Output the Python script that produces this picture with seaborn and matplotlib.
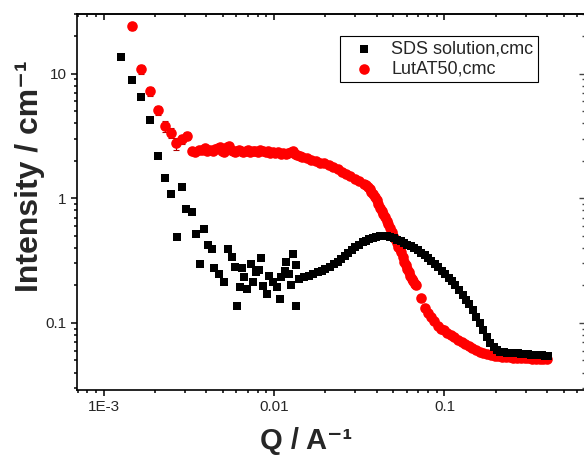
import matplotlib
matplotlib.use("Agg")
import matplotlib.pyplot as plt
import seaborn as sns
import pandas as pd
import numpy as np
from matplotlib.ticker import FixedLocator, FixedFormatter, LogLocator, NullFormatter

# ---------------- data ----------------
sds_q = [1.26e-3, 1.47e-3, 1.66e-3, 1.86e-3, 2.07e-3, 2.27e-3, 2.48e-3, 2.67e-3, 2.87e-3,
         3.04e-3, 3.28e-3, 3.47e-3, 3.67e-3, 3.87e-3, 4.06e-3, 4.29e-3, 4.44e-3, 4.74e-3,
         5.05e-3, 5.35e-3, 5.65e-3, 5.85e-3, 6.07e-3, 6.26e-3, 6.49e-3, 6.69e-3, 6.90e-3,
         7.32e-3, 7.49e-3, 7.83e-3, 8.18e-3, 8.38e-3, 8.63e-3, 9.02e-3, 9.35e-3, 9.78e-3,
         1.045e-2, 1.08e-2, 1.09e-2, 1.16e-2, 1.17e-2, 1.22e-2, 1.26e-2, 1.29e-2, 1.34e-2,
         1.35e-2,
         0.0140, 0.0150, 0.0160, 0.0170, 0.0180, 0.0190, 0.0200, 0.0212, 0.0224, 0.0236,
         0.0248, 0.0260, 0.0273, 0.0286, 0.0300, 0.0315, 0.0330, 0.0346, 0.0362, 0.0380,
         0.0398, 0.0417, 0.0437, 0.0458, 0.0480, 0.0503, 0.0527, 0.0552, 0.0578, 0.0605,
         0.0634, 0.0664, 0.0696, 0.0729, 0.0764, 0.0800, 0.0838, 0.0878, 0.0920, 0.0964,
         0.101, 0.106, 0.111, 0.116, 0.122, 0.128, 0.134, 0.140, 0.147, 0.154, 0.161,
         0.169, 0.177, 0.185, 0.194, 0.203, 0.213, 0.223, 0.234, 0.245, 0.257, 0.269,
         0.282, 0.295, 0.309, 0.324, 0.339, 0.355, 0.372, 0.390, 0.408]
sds_I = [13.6, 8.9, 6.5, 4.2, 2.2, 1.45, 1.08, 0.49, 1.23,
         0.817, 0.77, 0.52, 0.296, 0.565, 0.42, 0.39, 0.275, 0.247,
         0.214, 0.39, 0.34, 0.282, 0.138, 0.193, 0.274, 0.232, 0.187,
         0.296, 0.212, 0.255, 0.267, 0.33, 0.197, 0.171, 0.239, 0.212,
         0.193, 0.156, 0.232, 0.262, 0.31, 0.247, 0.2, 0.356, 0.138,
         0.291,
         0.225, 0.232, 0.240, 0.248, 0.255, 0.262, 0.270, 0.282, 0.296, 0.310,
         0.326, 0.343, 0.362, 0.382, 0.405, 0.425, 0.443, 0.458, 0.472, 0.483,
         0.492, 0.497, 0.500, 0.499, 0.492, 0.480, 0.466, 0.452, 0.438, 0.425,
         0.412, 0.398, 0.383, 0.367, 0.350, 0.332, 0.314, 0.297, 0.280, 0.262,
         0.246, 0.231, 0.215, 0.200, 0.184, 0.168, 0.154, 0.141, 0.126, 0.112, 0.099,
         0.087, 0.077, 0.069, 0.064, 0.061, 0.059, 0.058, 0.0578, 0.0575, 0.0572, 0.0569,
         0.0566, 0.0563, 0.0560, 0.0558, 0.0555, 0.0553, 0.0550, 0.0548, 0.0546]

lut_q = [1.456e-3, 1.66e-3, 1.86e-3, 2.07e-3, 2.27e-3, 2.48e-3, 2.66e-3, 2.87e-3, 3.07e-3,
         3.28e-3, 3.45e-3, 3.60e-3, 3.75e-3, 3.90e-3, 4.05e-3, 4.20e-3, 4.35e-3, 4.50e-3,
         4.65e-3, 4.80e-3, 4.95e-3, 5.10e-3, 5.25e-3, 5.40e-3, 5.55e-3, 5.70e-3, 5.85e-3,
         6.00e-3, 6.20e-3, 6.40e-3, 6.60e-3, 6.80e-3, 7.00e-3, 7.25e-3, 7.50e-3, 7.75e-3,
         8.00e-3, 8.30e-3, 8.60e-3, 8.90e-3, 9.20e-3, 9.50e-3, 9.80e-3, 1.01e-2, 1.05e-2,
         1.09e-2, 1.13e-2, 1.17e-2, 1.21e-2, 1.25e-2, 1.29e-2, 1.33e-2, 1.37e-2, 1.41e-2,
         0.0146, 0.0155, 0.0165, 0.0175, 0.0185, 0.0196, 0.0209, 0.0222, 0.0236, 0.0250,
         0.0265, 0.0280, 0.0298, 0.0316, 0.0336, 0.0346, 0.0356, 0.0364, 0.0372, 0.0381,
         0.0390, 0.0399, 0.0408, 0.0417, 0.0427, 0.0437, 0.0447, 0.0457, 0.0468, 0.0479,
         0.0490, 0.0501, 0.0512, 0.0523, 0.0535, 0.0546, 0.0558, 0.0570, 0.0582, 0.0594,
         0.0606, 0.0618, 0.0631, 0.0643, 0.0655, 0.0667, 0.0680,
         0.0728, 0.0770, 0.0805, 0.0832, 0.0870, 0.0910, 0.0950,
         0.099, 0.104, 0.109, 0.114, 0.120, 0.126, 0.132, 0.139, 0.146, 0.153, 0.161,
         0.169, 0.178, 0.187, 0.197, 0.207, 0.218, 0.229, 0.241, 0.254, 0.267, 0.281,
         0.296, 0.311, 0.327, 0.344, 0.362, 0.381, 0.400]
lut_I = [23.9, 10.8, 7.2, 5.06, 3.79, 3.36, 2.75, 2.96, 3.15,
         2.39, 2.36, 2.42, 2.45, 2.52, 2.40, 2.44, 2.38, 2.47,
         2.55, 2.58, 2.40, 2.35, 2.56, 2.60, 2.43, 2.38, 2.36,
         2.41, 2.45, 2.37, 2.33, 2.40, 2.43, 2.36, 2.41, 2.38,
         2.35, 2.42, 2.39, 2.33, 2.37, 2.31, 2.35, 2.29, 2.33,
         2.27, 2.30, 2.25, 2.31, 2.36, 2.40, 2.28, 2.22, 2.18,
         2.14, 2.09, 2.04, 1.98, 1.93, 1.90, 1.86, 1.79, 1.71, 1.63,
         1.55, 1.50, 1.42, 1.37, 1.31, 1.28, 1.24, 1.19, 1.13, 1.08,
         1.02, 0.96, 0.90, 0.84, 0.79, 0.75, 0.71, 0.66, 0.62, 0.58,
         0.54, 0.50, 0.47, 0.44, 0.41, 0.39, 0.37, 0.34, 0.31, 0.29,
         0.27, 0.255, 0.24, 0.227, 0.215, 0.207, 0.200,
         0.158, 0.133, 0.120, 0.111, 0.103, 0.095, 0.090,
         0.087, 0.083, 0.080, 0.077, 0.073, 0.070, 0.0675, 0.065, 0.063, 0.061, 0.059,
         0.0575, 0.0563, 0.0553, 0.0546, 0.0540, 0.0536, 0.0533, 0.0530, 0.0528, 0.0526, 0.0524,
         0.0522, 0.0520, 0.0518, 0.0517, 0.0516, 0.0515, 0.0514]
# error bars on the first (low-Q) red points
lut_err_q = [1.456e-3, 1.66e-3, 1.86e-3, 2.07e-3, 2.27e-3, 2.48e-3, 2.66e-3, 2.87e-3, 3.07e-3]
lut_err_I = [23.9, 10.8, 7.2, 5.06, 3.79, 3.36, 2.75, 2.96, 3.15]
lut_err = [1.5, 0.8, 0.6, 0.45, 0.38, 0.32, 0.30, 0.25, 0.22]

series_names = ["SDS solution,cmc", "LutAT50,cmc"]
xtick_vals = [1e-3, 1e-2, 1e-1]
xtick_labels = ["1E-3", "0.01", "0.1"]
ytick_vals = [0.1, 1, 10]
ytick_labels = ["0.1", "1", "10"]

# ---------------- style ----------------
sns.set_style("white")
plt.rcParams["font.family"] = ["Liberation Sans", "DejaVu Sans"]

fig = plt.figure(figsize=(5.84, 4.61), dpi=100)
ax = fig.add_axes([77 / 584, 1 - 390 / 461, 1 - 77 / 584 + 0.002, (390 - 14) / 461])

df_sds = pd.DataFrame({"Q": sds_q, "I": sds_I, "series": series_names[0]})
df_lut = pd.DataFrame({"Q": lut_q, "I": lut_I, "series": series_names[1]})

ax.errorbar(lut_err_q, lut_err_I, yerr=lut_err, fmt="none", ecolor="#b00000",
            elinewidth=0.8, capsize=2, capthick=0.8, zorder=1)
sns.scatterplot(data=df_sds, x="Q", y="I", marker="s", color="black", s=36,
                linewidth=0, ax=ax, label=series_names[0], zorder=3)
sns.scatterplot(data=df_lut, x="Q", y="I", marker="o", color="#ff0000", s=58,
                linewidth=0, ax=ax, label=series_names[1], zorder=2)

ax.set_xscale("log")
ax.set_yscale("log")
ax.set_xlim(6.95e-4, 0.67)
ax.set_ylim(0.029, 30)

ax.xaxis.set_major_locator(FixedLocator(xtick_vals))
ax.xaxis.set_major_formatter(FixedFormatter(xtick_labels))
ax.yaxis.set_major_locator(FixedLocator(ytick_vals))
ax.yaxis.set_major_formatter(FixedFormatter(ytick_labels))
ax.xaxis.set_minor_locator(LogLocator(base=10, subs=np.arange(2, 10), numticks=20))
ax.yaxis.set_minor_locator(LogLocator(base=10, subs=np.arange(2, 10), numticks=20))
ax.xaxis.set_minor_formatter(NullFormatter())
ax.yaxis.set_minor_formatter(NullFormatter())

for side in ["left", "bottom", "top"]:
    ax.spines[side].set_linewidth(1.2)
    ax.spines[side].set_color("black")
ax.spines["right"].set_visible(False)

ax.tick_params(which="both", bottom=True, left=True, top=False, right=False,
               direction="out", color="black", width=1.1, labelsize=11, pad=3)
ax.tick_params(which="major", length=4.5)
ax.tick_params(which="minor", length=2.5)
sec_x = ax.secondary_xaxis("top")
sec_x.set_xscale("log")
sec_x.xaxis.set_major_locator(FixedLocator(xtick_vals))
sec_x.xaxis.set_minor_locator(LogLocator(base=10, subs=np.arange(2, 10), numticks=20))
sec_x.tick_params(which="both", direction="in", labeltop=False, width=1.1, color="black")
sec_x.tick_params(which="major", length=4.5)
sec_x.tick_params(which="minor", length=2.5)
sec_x.spines["top"].set_linewidth(1.2)
sec_y = ax.secondary_yaxis("right")
sec_y.set_yscale("log")
sec_y.yaxis.set_major_locator(FixedLocator(ytick_vals))
sec_y.yaxis.set_minor_locator(LogLocator(base=10, subs=np.arange(2, 10), numticks=20))
sec_y.tick_params(which="both", direction="in", labelright=False, width=1.0, color="#444444")
sec_y.tick_params(which="major", length=4.5)
sec_y.tick_params(which="minor", length=2.5)
sec_y.spines["right"].set_visible(False)

ax.set_xlabel("Q / A\u207b\u00b9", fontsize=21, fontweight="bold")
ax.set_ylabel("Intensity / cm\u207b\u00b9", fontsize=23, fontweight="bold")
ax.xaxis.set_label_coords(0.45, -0.098)
ax.yaxis.set_label_coords(-0.062, 0.568)

leg = ax.legend(loc="upper right", bbox_to_anchor=(0.907, 0.941), borderaxespad=0,
                fontsize=13, frameon=True, fancybox=False, framealpha=1,
                handletextpad=0.4, borderpad=0.25, labelspacing=0.15, handlelength=2.2)
leg.get_frame().set_edgecolor("black")
leg.get_frame().set_linewidth(0.8)

fig.savefig("out.png", dpi=100)
